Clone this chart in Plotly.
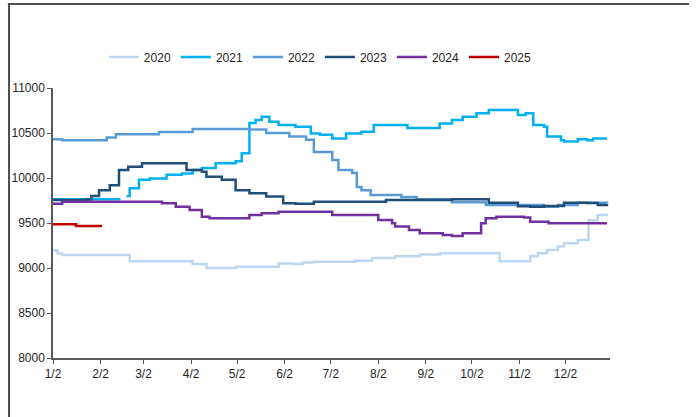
import plotly.graph_objects as go

# values (month-day, price); None = gap in data
d2020 = ["01-02", "01-05", "01-08", "02-20", "02-21", "03-27", "04-03", "04-12", "04-25", "05-01",
         "05-21", "05-29", "06-07", "06-14", "06-21", "07-18", "07-29", "08-13", "08-29", "09-11",
         "10-15", "10-20", "11-05", "11-09", "11-14", "11-20", "11-27", "12-01", "12-10", "12-16",
         "12-17", "12-23", "12-29"]
v2020 = [9195, 9160, 9145, 9145, 9075, 9075, 9045, 9000, 9000, 9015,
         9015, 9050, 9045, 9060, 9070, 9080, 9110, 9130, 9150, 9165,
         9165, 9075, 9075, 9130, 9165, 9200, 9240, 9275, 9310, 9310,
         9530, 9590, 9600]

d2021 = ["01-02", "02-15", "02-16", "02-19", "02-21", "02-27", "03-06", "03-17", "03-27", "04-03",
         "04-09", "04-18", "05-01", "05-05", "05-10", "05-14", "05-18", "05-23", "05-29", "06-09",
         "06-19", "06-25", "07-03", "07-12", "07-22", "07-30", "08-21", "09-11", "09-19", "09-26",
         "10-05", "10-13", "10-28", "11-01", "11-06", "11-11", "11-18", "11-20", "11-29", "12-01",
         "12-10", "12-16", "12-20", "12-29"]
v2021 = [9765, 9765, None, 9800, 9885, 9980, 9995, 10035, 10050, 10090,
         10110, 10165, 10185, 10275, 10610, 10645, 10680, 10625, 10590, 10570,
         10495, 10480, 10440, 10495, 10515, 10590, 10555, 10605, 10645, 10680,
         10720, 10755, 10755, 10700, 10720, 10590, 10570, 10460, 10420, 10405,
         10430, 10420, 10440, 10440]

d2022 = ["01-02", "01-08", "02-01", "02-06", "02-12", "03-12", "04-03", "05-10", "05-21", "06-05",
         "06-16", "06-21", "07-03", "07-07", "07-16", "07-19", "07-22", "07-28", "08-17", "08-27",
         "09-19", "10-11", "11-18", "11-27", "12-10", "12-29"]
v2022 = [10430, 10420, 10420, 10450, 10485, 10510, 10545, 10540, 10500, 10460,
         10425, 10290, 10200, 10090, 10055, 9900, 9865, 9810, 9790, 9765,
         9730, 9700, 9680, 9700, 9725, 9722]

d2023 = ["01-02", "01-24", "01-27", "02-01", "02-08", "02-14", "02-20", "03-01", "03-25", "03-30",
         "04-09", "04-12", "04-22", "05-01", "05-10", "05-21", "06-01", "06-09", "06-21", "08-07",
         "09-19", "10-13", "11-01", "11-09", "11-18", "12-01", "12-16", "12-23", "12-29"]
v2023 = [9755, 9760, 9800, 9865, 9920, 10090, 10125, 10165, 10165, 10090,
         10070, 10015, 9980, 9865, 9830, 9795, 9720, 9715, 9737, 9756,
         9763, 9726, 9685, 9680, 9690, 9726, 9722, 9700, 9715]

d2024 = ["01-02", "01-08", "03-10", "03-14", "03-23", "04-01", "04-09", "04-14", "05-08", "05-10",
         "05-18", "05-29", "07-01", "07-03", "07-30", "08-02", "08-11", "08-13", "08-22", "08-29",
         "09-13", "09-19", "09-26", "10-05", "10-08", "10-11", "10-18", "11-01", "11-05", "11-09",
         "11-21", "12-29"]
v2024 = [9715, 9737, 9737, 9720, 9680, 9645, 9570, 9552, 9552, 9590,
         9607, 9626, 9626, 9590, 9590, 9533, 9496, 9460, 9422, 9385,
         9367, 9356, 9385, 9385, 9496, 9552, 9570, 9570, 9560, 9515,
         9496, 9496]

d2025 = ["01-02", "01-08", "01-17", "02-03"]
v2025 = [9485, 9485, 9467, 9467]

tick_dates = ["01-02", "02-02", "03-02", "04-02", "05-02", "06-02",
              "07-02", "08-02", "09-02", "10-02", "11-02", "12-02"]
tick_labels = ["1/2", "2/2", "3/2", "4/2", "5/2", "6/2",
               "7/2", "8/2", "9/2", "10/2", "11/2", "12/2"]
y_ticks = [8000, 8500, 9000, 9500, 10000, 10500, 11000]

series = [
    ("2020", d2020, v2020, "#bdd7ee"),
    ("2021", d2021, v2021, "#00b0f0"),
    ("2022", d2022, v2022, "#5b9bd5"),
    ("2023", d2023, v2023, "#1f4e79"),
    ("2024", d2024, v2024, "#7030a0"),
    ("2025", d2025, v2025, "#c00000"),
]

BASE = "2021-"
FONT = "Liberation Sans, Arial"

fig = go.Figure()
for name, dates, vals, color in series:
    fig.add_trace(go.Scatter(
        x=[BASE + d for d in dates], y=vals, name=name, mode="lines",
        line=dict(color=color, width=2.5, shape="hv"),
        connectgaps=False,
    ))

axis_col = "#595959"
fig.update_xaxes(
    type="date", range=[BASE + "01-02", BASE + "12-31"],
    tickvals=[BASE + d for d in tick_dates], ticktext=tick_labels,
    showgrid=False, zeroline=False, showline=True, linecolor=axis_col, linewidth=1.5,
    ticks="outside", ticklen=4, tickcolor=axis_col, tickwidth=1,
    tickfont=dict(size=12, color="#262626", family=FONT),
)
fig.update_yaxes(
    range=[8000, 11000], tickvals=y_ticks, tickformat="d",
    showgrid=False, zeroline=False, showline=True, linecolor=axis_col, linewidth=1.5,
    ticks="outside", ticklen=4, tickcolor=axis_col, tickwidth=1,
    tickfont=dict(size=12, color="#262626", family=FONT),
)

# outer frame: top rule and left rule
fig.add_shape(type="line", xref="paper", yref="paper", x0=-0.081, x1=1.142, y0=1.311, y1=1.311,
              line=dict(color="#505050", width=2))
fig.add_shape(type="line", xref="paper", yref="paper", x0=-0.079, x1=-0.079, y0=1.311, y1=-0.22,
              line=dict(color="#505050", width=2))

fig.update_layout(
    width=696, height=417,
    margin=dict(l=53, r=86, t=88, b=59),
    paper_bgcolor="white", plot_bgcolor="white",
    font=dict(family=FONT, size=12, color="#262626"),
    showlegend=True,
    legend=dict(orientation="h", x=0.48, xanchor="center", y=1.115, yanchor="middle",
                font=dict(size=12, family=FONT), itemwidth=30, tracegroupgap=0,
                bgcolor="rgba(0,0,0,0)"),
)

fig.write_html("out.html", config={"displayModeBar": False},
               post_script="document.body.style.margin='0';")
